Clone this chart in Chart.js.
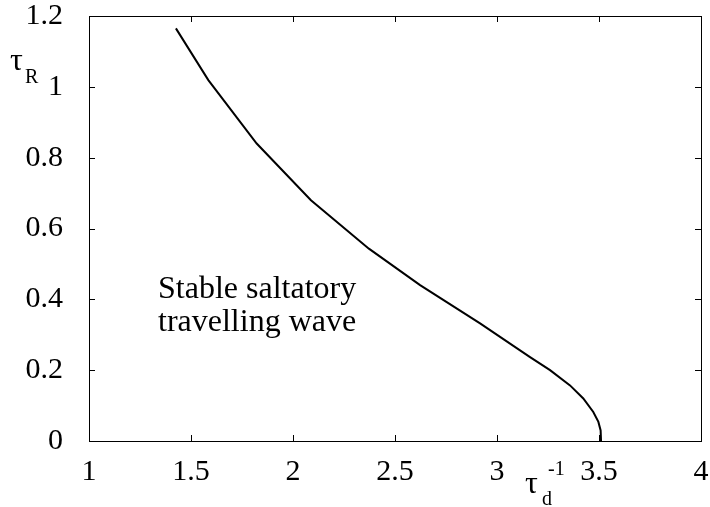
<!DOCTYPE html>
<html>
<head>
  <meta charset="UTF-8">
  <title>Stable saltatory travelling wave</title>
  <style>
    body {
      margin: 0;
      background: #fff;
      font-family: "Liberation Serif";
    }
    .chart-container {
      width: 710px;
      height: 507px;
    }
  </style>
  <script src="https://cdn.jsdelivr.net/npm/chart.js"></script>
</head>
<body>
  <div class="chart-container">
    <canvas id="waveChart"></canvas>
  </div>

  <script>
    // Data
    const tauDInv = [1.426, 1.585, 1.822, 2.088, 2.372, 2.623, 2.917, 3.162, 3.260, 3.358, 3.423, 3.472, 3.497, 3.508, 3.510];
    const tauR = [1.165, 1.019, 0.840, 0.680, 0.543, 0.440, 0.332, 0.237, 0.200, 0.157, 0.120, 0.082, 0.054, 0.030, 0];

    const xTicks = [1, 1.5, 2, 2.5, 3, 3.5, 4];
    const yTicks = [0, 0.2, 0.4, 0.6, 0.8, 1, 1.2];
    const regionLabel = ['Stable saltatory', 'travelling wave'];

    const serif = '"Liberation Serif"';
    Chart.defaults.font.family = serif;

    // box round the plot with gnuplot style inward ticks on all four sides
    const frameAndText = {
      id: 'frameAndText',
      afterDraw(chart) {
        const ctx = chart.ctx;
        const area = chart.chartArea;
        const xs = chart.scales.x;
        const ys = chart.scales.y;
        const tick = 6;

        ctx.save();
        ctx.strokeStyle = '#000';
        ctx.lineWidth = 1;
        ctx.strokeRect(area.left + 0.5, area.top + 0.5, area.right - area.left, area.bottom - area.top);

        ctx.beginPath();
        xTicks.forEach(v => {
          const px = Math.round(xs.getPixelForValue(v)) + 0.5;
          ctx.moveTo(px, area.bottom);
          ctx.lineTo(px, area.bottom - tick);
          ctx.moveTo(px, area.top);
          ctx.lineTo(px, area.top + tick);
        });
        yTicks.forEach(v => {
          const py = Math.round(ys.getPixelForValue(v)) + 0.5;
          ctx.moveTo(area.left, py);
          ctx.lineTo(area.left + tick, py);
          ctx.moveTo(area.right, py);
          ctx.lineTo(area.right - tick, py);
        });
        ctx.stroke();

        // axis names
        ctx.fillStyle = '#000';
        ctx.textAlign = 'left';
        ctx.textBaseline = 'alphabetic';
        ctx.font = '32px ' + serif;
        ctx.fillText('τ', 10, 70);
        ctx.font = '20px ' + serif;
        ctx.fillText('R', 25, 83);

        ctx.font = '32px ' + serif;
        ctx.fillText('τ', 525, 493);
        ctx.font = '20px ' + serif;
        ctx.fillText('d', 542, 505);
        ctx.fillText('-1', 548, 475);

        // region label
        ctx.font = '32px ' + serif;
        ctx.fillText(regionLabel[0], 158, 298);
        ctx.fillText(regionLabel[1], 158, 331);
        ctx.restore();
      }
    };

    function drawChart() {
      const ctx = document.getElementById('waveChart').getContext('2d');
      new Chart(ctx, {
        type: 'scatter',
        data: {
          datasets: [{
            data: tauDInv.map((x, i) => ({ x: x, y: tauR[i] })),
            showLine: true,
            borderColor: '#000',
            borderWidth: 2,
            pointRadius: 0,
            tension: 0,
            fill: false
          }]
        },
        options: {
          responsive: true,
          maintainAspectRatio: false,
          animation: false,
          layout: {
            padding: { left: 0, right: 9, top: 16, bottom: 0 }
          },
          plugins: {
            legend: { display: false },
            tooltip: { enabled: false }
          },
          scales: {
            x: {
              type: 'linear',
              min: 1,
              max: 4,
              afterBuildTicks: scale => {
                scale.ticks = xTicks.map(v => ({ value: v }));
              },
              afterFit: scale => {
                scale.height = 66;
                scale.paddingLeft = 0;
                scale.paddingRight = 0;
              },
              grid: { display: false },
              border: { display: false },
              ticks: {
                color: '#000',
                padding: 5,
                maxRotation: 0,
                autoSkip: false,
                callback: v => String(v),
                font: { family: serif, size: 30 }
              }
            },
            y: {
              type: 'linear',
              min: 0,
              max: 1.2,
              afterBuildTicks: scale => {
                scale.ticks = yTicks.map(v => ({ value: v }));
              },
              afterFit: scale => {
                scale.width = 89;
                scale.paddingTop = 0;
                scale.paddingBottom = 0;
              },
              grid: { display: false },
              border: { display: false },
              ticks: {
                color: '#000',
                padding: 18,
                autoSkip: false,
                callback: v => String(v),
                font: { family: serif, size: 30 }
              }
            }
          }
        },
        plugins: [frameAndText]
      });
    }

    // make sure the serif face is ready before the canvas text is drawn
    if (document.fonts && document.fonts.load) {
      document.fonts.load('30px ' + serif).then(drawChart, drawChart);
    } else {
      drawChart();
    }
  </script>
</body>
</html>
